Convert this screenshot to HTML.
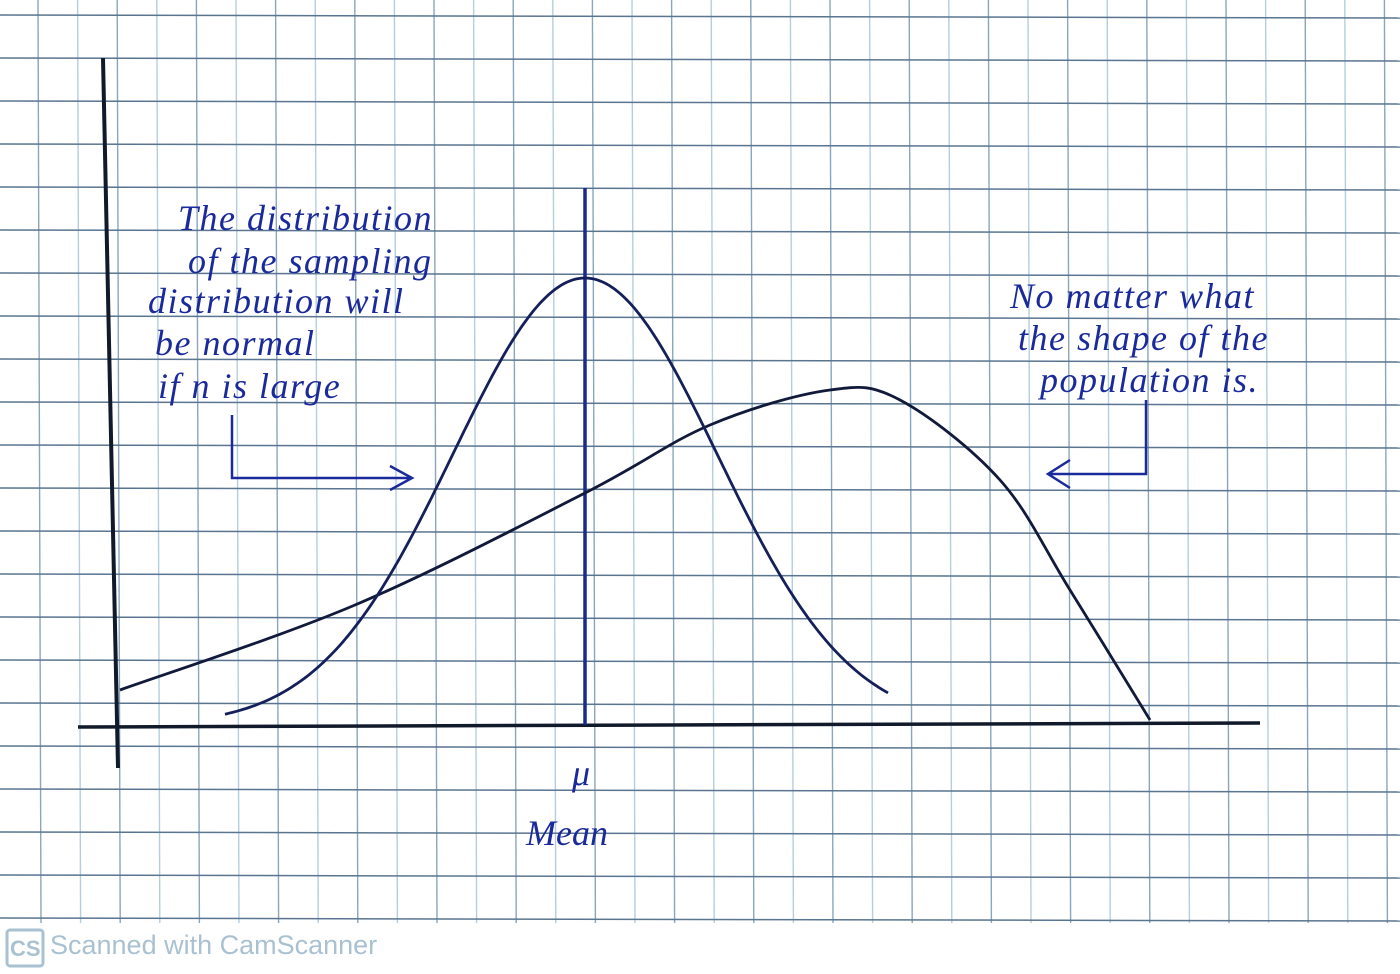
<!DOCTYPE html>
<html><head><meta charset="utf-8"><style>
html,body{margin:0;padding:0;background:#fff;}
svg{display:block;}
.hand{font-family:"Liberation Serif",serif;font-style:italic;fill:#1a2a9a;}
</style></head><body>
<svg id="chart" width="1400" height="974" viewBox="0 0 1400 974">
<g id="grid"></g>
<line x1="103" y1="58" x2="118" y2="768" stroke="#111a2a" stroke-width="4"/>
<line x1="78" y1="727" x2="1260" y2="723" stroke="#111a2a" stroke-width="3.5"/>
<line x1="585" y1="188" x2="585" y2="725" stroke="#1a2a8a" stroke-width="3.5"/>
<path id="pop" fill="none" stroke="#111a3a" stroke-width="2.8"/>
<path id="samp" fill="none" stroke="#15205a" stroke-width="2.8"/>
<text class="hand" x="572" y="785" font-size="36">μ</text>
<text class="hand" x="526" y="845" font-size="36">Mean</text>
<g class="hand" font-size="36" letter-spacing="1.5">
<text x="178" y="230">The  distribution</text>
<text x="188" y="273">of  the  sampling</text>
<text x="148" y="313">distribution  will</text>
<text x="155" y="355">be  normal</text>
<text x="158" y="398">if  n  is  large</text>
</g>
<path d="M232 415 L232 478 L412 478 M390 466 L412 478 L390 490" fill="none" stroke="#1a2a9a" stroke-width="2.5"/>
<g class="hand" font-size="36" letter-spacing="1.5">
<text x="1010" y="308">No  matter  what</text>
<text x="1018" y="350">the  shape  of  the</text>
<text x="1040" y="392">population   is.</text>
</g>
<path d="M1146 400 L1146 474 L1048 474 M1070 460 L1048 474 L1070 488" fill="none" stroke="#1a2a9a" stroke-width="2.5"/>
<rect x="0" y="924" width="1400" height="50" fill="#fff"/>
<g>
<rect x="7" y="930" width="36" height="36" rx="3" fill="none" stroke="#a9c1d1" stroke-width="3"/>
<text x="10" y="956" font-family="Liberation Sans,sans-serif" font-weight="bold" font-size="22" fill="#a9c1d1">CS</text>
<text x="50" y="954" font-family="Liberation Sans,sans-serif" font-size="27" fill="#a9c1d1">Scanned with CamScanner</text>
</g>
</svg>
<script>
// grid data
const vGridCount = 36, hGridCount = 22;
// sampling curve: normal params
const sampMean = 585, sampSd = 132, sampPeak = 447;
const sampRange = [225, 890];
// population curve points (x, height above axis)
const popX = [120, 355, 585, 710, 830, 900, 1000, 1070, 1150];
const popH = [35, 120, 232, 300, 335, 325, 245, 135, 5];
const baseY = 725;
const ns = "http://www.w3.org/2000/svg";
const g = document.getElementById('grid');
for (let i = 0; i < vGridCount; i++) {
  const x = 38 + i * 39.6;
  const l = document.createElementNS(ns, 'line');
  
  
  l.setAttribute('x1', x); l.setAttribute('x2', x + 3);
  l.setAttribute('y1', 0); l.setAttribute('y2', 923);
  l.setAttribute('stroke', i % 2 ? '#b4cede' : '#8aa6bd'); l.setAttribute('stroke-width', '1.4');
  g.appendChild(l);
}
for (let j = 0; j < hGridCount; j++) {
  const y = 15 + j * 43;
  const l = document.createElementNS(ns, 'line');
  
  
  l.setAttribute('x1', 0); l.setAttribute('x2', 1400);
  l.setAttribute('y1', y); l.setAttribute('y2', y + 3);
  l.setAttribute('stroke', '#5a7590'); l.setAttribute('stroke-width', '1.5');
  g.appendChild(l);
}
let d = '';
for (let x = sampRange[0]; x <= sampRange[1]; x += 3) {
  const z = (x - sampMean) / sampSd;
  const y = baseY - sampPeak * Math.exp(-z * z / 2);
  d += (d ? 'L' : 'M') + x + ' ' + y.toFixed(1);
}
document.getElementById('samp').setAttribute('d', d);
let p = 'M' + popX[0] + ' ' + (baseY - popH[0]);
for (let i = 0; i < popX.length - 1; i++) {
  const a = Math.max(i - 1, 0), c = Math.min(i + 2, popX.length - 1);
  const x0 = popX[a], y0 = baseY - popH[a];
  const x1 = popX[i], y1 = baseY - popH[i];
  const x2 = popX[i + 1], y2 = baseY - popH[i + 1];
  const x3 = popX[c], y3 = baseY - popH[c];
  p += `C${x1 + (x2 - x0) / 6} ${y1 + (y2 - y0) / 6} ${x2 - (x3 - x1) / 6} ${y2 - (y3 - y1) / 6} ${x2} ${y2}`;
}
document.getElementById('pop').setAttribute('d', p);
</script>
</body></html>
